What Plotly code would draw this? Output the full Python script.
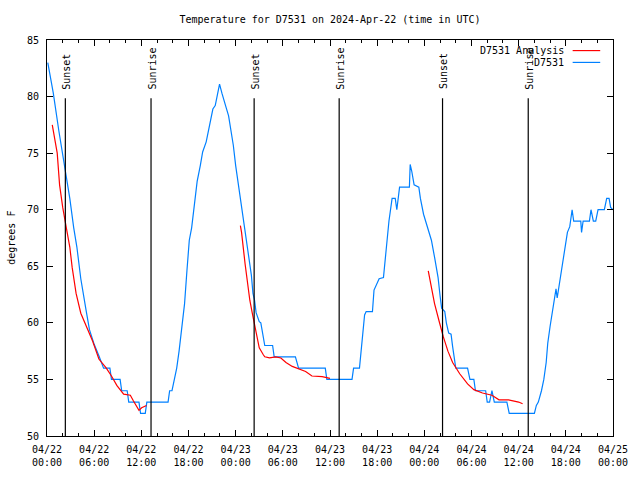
import pandas as pd
import plotly.graph_objects as go

# ---- data (hours since 2024-04-22 00:00 UTC, temperature in F) ----
OBS_HOURS = [0.1, 0.8, 1.5, 2.25, 2.9, 3.4, 3.8, 4.3, 4.7, 5.0, 5.4, 6.0, 6.6, 7.2, 8.0, 8.2, 9.3, 9.5,
             10.2, 10.4, 11.7, 11.9, 12.5, 12.7, 15.4, 15.6, 15.9, 16.2, 16.5, 16.8, 17.1, 17.5, 17.8,
             18.1, 18.4, 18.7, 19.1, 19.5, 19.8, 20.25, 20.6, 21.1, 21.4, 21.6, 21.95, 22.25, 22.5,
             22.8, 23.1, 23.4, 23.7, 24.0, 24.3, 24.6, 25.0, 25.3, 25.6, 25.8, 26.0, 26.2, 26.4, 26.6,
             27.0, 27.2, 27.5, 27.7, 28.7, 28.9, 31.6, 32.0, 35.4, 35.6, 38.8, 39.0, 39.75, 40.0,
             40.2, 40.4, 40.6, 41.4, 41.6, 41.8, 42.25, 42.8, 43.0, 43.2, 43.5, 43.9, 44.3, 44.5,
             44.75, 44.85, 46.1, 46.2, 46.4, 46.7, 47.3, 47.5, 47.9, 48.1, 48.5, 48.9, 49.3, 49.75,
             50.0, 50.2, 50.6, 50.8, 51.1, 51.4, 51.6, 51.8, 52.0, 53.5, 53.7, 53.8, 54.3, 54.5,
             55.8, 56.0, 56.3, 56.6, 56.9, 58.5, 58.8, 62.0, 62.25, 62.5, 62.9, 63.2, 63.5, 63.7,
             64.0, 64.3, 64.5, 64.75, 64.9, 65.2, 65.4, 65.6, 65.8, 66.0, 66.2, 66.5, 66.6, 66.8,
             67.0, 67.9, 68.0, 68.2, 69.0, 69.2, 69.5, 69.8, 70.1, 70.9, 71.2, 71.5, 71.7, 72.0]
OBS_TEMPS = [83.0, 80.3, 77.0, 73.8, 71.0, 68.4, 66.7, 63.9, 62.0, 61.0, 59.4, 58.1, 57.1, 56.0, 56.0, 55.0, 55.0, 54.0,
             54.0, 53.0, 53.0, 52.0, 52.0, 53.0, 53.0, 54.0, 54.0, 55.0, 56.0, 57.5, 59.1, 61.7, 64.6,
             67.3, 68.4, 70.4, 72.5, 73.9, 75.1, 76.0, 77.1, 78.9, 79.2, 80.0, 81.1, 80.3, 79.6,
             79.0, 78.3, 77.1, 75.7, 73.9, 72.5, 71.0, 69.3, 67.5, 66.5, 65.2, 64.2, 62.6, 62.0, 60.9,
             60.1, 60.0, 58.8, 58.0, 58.0, 57.0, 57.0, 56.0, 56.0, 55.0, 55.0, 56.0, 56.0, 57.9,
             59.7, 60.7, 61.0, 61.0, 62.9, 63.2, 63.9, 64.0, 65.5, 67.3, 69.0, 71.0, 71.0, 70.0,
             71.5, 72.0, 72.0, 74.0, 73.4, 72.2, 72.0, 71.0, 69.6, 69.1, 68.2, 67.3, 65.8, 64.0,
             62.4, 61.3, 61.0, 60.0, 59.1, 59.0, 57.9, 56.8, 56.0, 56.0, 55.2, 55.0, 55.0, 54.0,
             54.0, 53.0, 53.0, 54.0, 53.0, 53.0, 52.0, 52.0, 52.7, 53.0, 54.0, 55.0, 56.5, 58.2,
             59.7, 61.1, 62.2, 63.0, 62.2, 63.5, 64.3, 65.5, 66.4, 67.3, 68.0, 68.5, 69.1, 70.0,
             69.0, 69.0, 68.0, 69.0, 69.0, 70.0, 69.0, 69.0, 70.0, 70.0, 71.0, 71.0, 70.2, 70.0]

FIT1_HOURS = [0.67, 1.0, 1.3, 1.6, 2.0, 2.46, 2.9, 3.2, 3.7, 4.3, 5.0, 5.8, 6.6, 7.5, 8.2, 8.9, 9.75,
              10.6, 11.0, 11.4, 11.7, 12.04, 12.66]
FIT1_TEMPS = [77.5, 76.3, 75.0, 72.2, 70.2, 68.4, 66.7, 64.9, 62.6, 60.85, 59.7, 58.4, 56.8, 56.05, 55.3,
              54.45, 53.7, 53.6, 53.1, 52.55, 52.27, 52.5, 52.7]
FIT2_HOURS = [24.6, 24.75, 25.2, 25.5, 25.8, 26.1, 26.4, 26.7, 27.0, 27.5, 27.7, 28.3, 29.1, 29.75,
              30.4, 31.2, 32.0, 32.9, 33.7, 35.0, 36.0]
FIT2_TEMPS = [68.6, 68.0, 65.2, 63.5, 62.0, 60.9, 59.8, 58.6, 57.8, 57.2, 57.0, 56.9, 57.0, 56.9,
              56.5, 56.15, 55.97, 55.7, 55.3, 55.24, 55.1]
FIT3_HOURS = [48.5, 48.9, 49.3, 49.9, 50.4, 51.0, 51.6, 52.5, 53.5, 54.3, 55.4, 56.6, 57.5, 58.7,
              59.5, 60.0, 60.5]
FIT3_TEMPS = [64.6, 63.2, 61.7, 60.1, 58.8, 57.5, 56.5, 55.5, 54.6, 54.1, 53.8, 53.6, 53.2, 53.2,
              53.1, 53.0, 52.85]

SUN_TIMES = ["2024-04-22 02:20", "2024-04-22 13:14", "2024-04-23 02:21",
             "2024-04-23 13:10", "2024-04-24 02:19", "2024-04-24 13:13"]
SUN_LABELS = ["Sunset", "Sunrise", "Sunset", "Sunrise", "Sunset", "Sunrise"]

TICK_VALS = ["2024-04-22 00:00", "2024-04-22 06:00", "2024-04-22 12:00", "2024-04-22 18:00",
             "2024-04-23 00:00", "2024-04-23 06:00", "2024-04-23 12:00", "2024-04-23 18:00",
             "2024-04-24 00:00", "2024-04-24 06:00", "2024-04-24 12:00", "2024-04-24 18:00",
             "2024-04-25 00:00"]
TICK_TEXT = ["04/22<br>00:00", "04/22<br>06:00", "04/22<br>12:00", "04/22<br>18:00",
             "04/23<br>00:00", "04/23<br>06:00", "04/23<br>12:00", "04/23<br>18:00",
             "04/24<br>00:00", "04/24<br>06:00", "04/24<br>12:00", "04/24<br>18:00",
             "04/25<br>00:00"]
Y_TICKS = [50, 55, 60, 65, 70, 75, 80, 85]

BASE = pd.Timestamp("2024-04-22 00:00")


def to_time(hours):
    return [BASE + pd.Timedelta(hours=h) for h in hours]


FONT = "DejaVu Sans Mono"
BLUE = "#0080ff"
RED = "#ff0000"

fig = go.Figure()
fig.add_trace(go.Scatter(x=to_time(OBS_HOURS), y=OBS_TEMPS, mode="lines", name="D7531",
                         line=dict(color=BLUE, width=1.2), showlegend=False))
for hh, tt in [(FIT1_HOURS, FIT1_TEMPS), (FIT2_HOURS, FIT2_TEMPS), (FIT3_HOURS, FIT3_TEMPS)]:
    fig.add_trace(go.Scatter(x=to_time(hh), y=tt, mode="lines", name="D7531 Analysis",
                             line=dict(color=RED, width=1.2), showlegend=False))

for t, lab in zip(SUN_TIMES, SUN_LABELS):
    fig.add_shape(type="line", xref="x", yref="paper", x0=t, x1=t, y0=0, y1=0.853,
                  line=dict(color="black", width=1.2))
    fig.add_annotation(x=t, xref="x", y=0.870, yref="paper", text=lab, textangle=-90,
                       showarrow=False, xanchor="center", yanchor="bottom", xshift=1,
                       font=dict(family=FONT, size=10, color="black"))

# legend (gnuplot style: text right aligned, sample on right)
for name, col, yy in [("D7531 Analysis", RED, 0.9733), ("D7531", BLUE, 0.9434)]:
    fig.add_annotation(x=0.9165, xref="paper", y=yy, yref="paper", text=name, showarrow=False,
                       xanchor="right", yanchor="middle",
                       font=dict(family=FONT, size=10, color="black"))
    fig.add_shape(type="line", xref="paper", yref="paper", x0=0.9287, x1=0.9774, y0=yy, y1=yy,
                  line=dict(color=col, width=1.2))

fig.add_annotation(x=-0.064, xref="paper", y=0.5, yref="paper", text="degrees F", textangle=-90,
                   showarrow=False, xanchor="center", yanchor="middle",
                   font=dict(family=FONT, size=10, color="black"))

fig.update_layout(
    autosize=True,
    margin=dict(l=47, r=18, t=40, b=39),
    paper_bgcolor="white", plot_bgcolor="white",
    font=dict(family=FONT, size=10, color="black"),
    title=dict(text="Temperature for D7531 on 2024-Apr-22 (time in UTC)", x=0.5, xref="paper",
               xanchor="center", y=1 - 19 / 480, yanchor="middle",
               font=dict(family=FONT, size=10, color="black")),
    showlegend=False,
)
fig.update_xaxes(type="date", range=["2024-04-22 00:00", "2024-04-25 00:00"],
                 tickmode="array", tickvals=TICK_VALS, ticktext=TICK_TEXT,
                 ticks="inside", ticklen=6, tickcolor="black", showgrid=False, zeroline=False,
                 showline=True, linecolor="black", linewidth=1, mirror="ticks",
                 ticklabelstandoff=4,
                 minor=dict(tickmode="linear", tick0="2024-04-22 00:00", dtick=7200000,
                            ticks="inside", ticklen=3, tickcolor="black", showgrid=False),
                 tickfont=dict(family=FONT, size=10, color="black"))
fig.update_yaxes(range=[50, 85], tickmode="array", tickvals=Y_TICKS,
                 ticks="inside", ticklen=6, tickcolor="black", showgrid=False, zeroline=False,
                 showline=True, linecolor="black", linewidth=1, mirror="ticks",
                 ticklabelstandoff=5,
                 tickfont=dict(family=FONT, size=10, color="black"))

POST = ("document.documentElement.style.overflow='hidden';"
        "document.body.style.margin='0';document.body.style.overflow='hidden';"
        "var gd=document.getElementById('{plot_id}');"
        "gd.style.width='100vw';gd.style.height='100vh';"
        "Plotly.Plots.resize(gd);")

fig.write_html("out.html", config={"displayModeBar": False, "responsive": True},
               default_width="100vw", default_height="100vh", post_script=POST)
